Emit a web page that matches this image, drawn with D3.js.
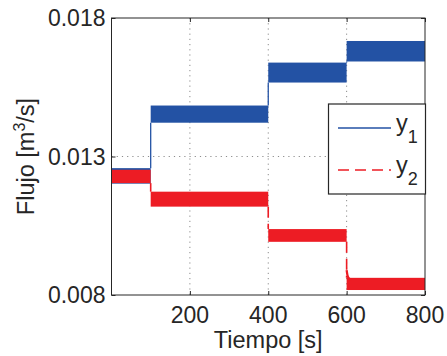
<!DOCTYPE html>
<html>
<head>
<meta charset="utf-8">
<script src="https://cdn.jsdelivr.net/npm/d3@7"></script>
<style>
  html, body { margin: 0; padding: 0; background: #fff; }
  svg { display: block; }
  text { font-family: "Liberation Sans", Arial, Helvetica, sans-serif; fill: #262626; }
</style>
</head>
<body>
<svg id="chart" width="447" height="356"></svg>
<script>
// Step boundaries of the experiment (s)
const stepTimes = [0, 100, 400, 600, 800];
// Mean flow of each step and half-width of the measurement noise band (m^3/s)
const y1Mean   = [0.0123, 0.01453, 0.01603, 0.0168];
const y1Spread = [0.00028, 0.00031, 0.00036, 0.00037];
const y2Mean   = [0.01228, 0.01146, 0.01015, 0.0084];
const y2Spread = [0.00024, 0.00027, 0.00023, 0.00022];
// Short settling transient of y2 right after the step at 600 s
const y2Settle = [[600, 0.0089], [602, 0.0087], [605, 0.0086], [612, 0.00855]];

const xTicks = [200, 400, 600, 800];
const yTicks = [0.008, 0.013, 0.018];
const xDomain = [0, 800];
const yDomain = [0.008, 0.018];

const blue = "#2352a4";
const red = "#ed1c24";
const ink = "#262626";

const svg = d3.select("#chart");
const plotL = 111.5, plotR = 425, plotT = 18, plotB = 295;

const x = d3.scaleLinear().domain(xDomain).range([plotL, plotR]);
const y = d3.scaleLinear().domain(yDomain).range([plotB, plotT]);

// grid
const grid = svg.append("g")
  .attr("stroke", "#8c8c8c").attr("stroke-width", 1)
  .attr("stroke-dasharray", "1.2,4");
grid.selectAll("line.gx").data(xTicks.filter(t => t < xDomain[1]))
  .join("line").attr("class", "gx")
  .attr("x1", d => x(d)).attr("x2", d => x(d))
  .attr("y1", plotT).attr("y2", plotB);
grid.selectAll("line.gy").data(yTicks.filter(t => t > yDomain[0] && t < yDomain[1]))
  .join("line").attr("class", "gy")
  .attr("y1", d => y(d)).attr("y2", d => y(d))
  .attr("x1", plotL).attr("x2", plotR);

// per-step segments
function segments(mean, spread) {
  return mean.map((m, i) => ({
    t0: stepTimes[i], t1: stepTimes[i + 1], m: m, s: spread[i]
  }));
}

function drawSeries(mean, spread, color, dashed) {
  const segs = segments(mean, spread);
  const g = svg.append("g");
  // connecting lines at the step changes
  const joins = segs.slice(1).map((s, i) => {
    const p = segs[i];
    const up = s.m > p.m;
    return {
      t: s.t0,
      v0: up ? p.m + p.s : p.m - p.s,
      v1: up ? s.m - s.s : s.m + s.s
    };
  });
  g.selectAll("line").data(joins).join("line")
    .attr("x1", d => x(d.t)).attr("x2", d => x(d.t))
    .attr("y1", d => y(d.v0)).attr("y2", d => y(d.v1))
    .attr("stroke", color).attr("stroke-width", dashed ? 1.6 : 1.3)
    .attr("stroke-dasharray", dashed ? "11,6" : null);
  // noise bands
  g.selectAll("rect").data(segs).join("rect")
    .attr("x", d => x(d.t0)).attr("width", d => x(d.t1) - x(d.t0))
    .attr("y", d => y(d.m + d.s)).attr("height", d => y(d.m - d.s) - y(d.m + d.s))
    .attr("fill", color);
  return g;
}

drawSeries(y1Mean, y1Spread, blue, false);
const g2 = drawSeries(y2Mean, y2Spread, red, true);
g2.append("path")
  .datum(y2Settle)
  .attr("d", d3.line().x(d => x(d[0])).y(d => y(d[1])).curve(d3.curveBasis))
  .attr("fill", "none").attr("stroke", red).attr("stroke-width", 2.2);

// axes box and ticks (inward on all sides)
svg.append("rect")
  .attr("x", plotL).attr("y", plotT)
  .attr("width", plotR - plotL).attr("height", plotB - plotT)
  .attr("fill", "none").attr("stroke", ink).attr("stroke-width", 1);

const xAxisB = d3.axisBottom(x).tickValues(xTicks).tickSize(-4).tickFormat("");
const xAxisT = d3.axisTop(x).tickValues(xTicks).tickSize(-4).tickFormat("");
const yAxisL = d3.axisLeft(y).tickValues(yTicks).tickSize(-4).tickFormat("");
const yAxisR = d3.axisRight(y).tickValues(yTicks).tickSize(-4).tickFormat("");
[[xAxisB, `translate(0,${plotB})`], [xAxisT, `translate(0,${plotT})`],
 [yAxisL, `translate(${plotL},0)`], [yAxisR, `translate(${plotR},0)`]].forEach(([ax, tr]) => {
  const g = svg.append("g").attr("transform", tr).call(ax);
  g.select(".domain").remove();
  g.selectAll("line").attr("stroke", ink);
});

// tick labels
svg.append("g").selectAll("text").data(xTicks).join("text")
  .attr("x", d => x(d)).attr("y", 323)
  .attr("text-anchor", "middle").attr("font-size", 23)
  .text(d => d);
svg.append("g").selectAll("text").data(yTicks).join("text")
  .attr("x", plotL - 6).attr("y", d => y(d)).attr("dy", "0.35em")
  .attr("text-anchor", "end").attr("font-size", 23)
  .text(d => d3.format(".3f")(d));

// axis titles
svg.append("text")
  .attr("x", (plotL + plotR) / 2).attr("y", 348)
  .attr("text-anchor", "middle").attr("font-size", 23.5)
  .text("Tiempo [s]");
const yl = svg.append("text")
  .attr("transform", `translate(34,${(plotT + plotB) / 2}) rotate(-90)`)
  .attr("text-anchor", "middle").attr("font-size", 23.5);
yl.append("tspan").text("Flujo [m");
yl.append("tspan").attr("font-size", 16).attr("dy", -9).text("3");
yl.append("tspan").attr("dy", 9).text("/s]");

// legend
const lg = svg.append("g");
lg.append("rect")
  .attr("x", 328.5).attr("y", 104).attr("width", 97).attr("height", 90)
  .attr("fill", "#fff").attr("stroke", ink).attr("stroke-width", 1.2);
const legendItems = [
  { name: "y", sub: "1", color: blue, dash: null, ly: 128 },
  { name: "y", sub: "2", color: red, dash: "11,6", ly: 170 }
];
legendItems.forEach(it => {
  lg.append("line")
    .attr("x1", 338).attr("x2", 391).attr("y1", it.ly).attr("y2", it.ly)
    .attr("stroke", it.color).attr("stroke-width", 1.6)
    .attr("stroke-dasharray", it.dash);
  const t = lg.append("text").attr("x", 396).attr("y", it.ly + 2.5).attr("font-size", 23.5);
  t.append("tspan").text(it.name);
  t.append("tspan").attr("font-size", 18).attr("dy", 12).text(it.sub);
});
</script>
</body>
</html>
